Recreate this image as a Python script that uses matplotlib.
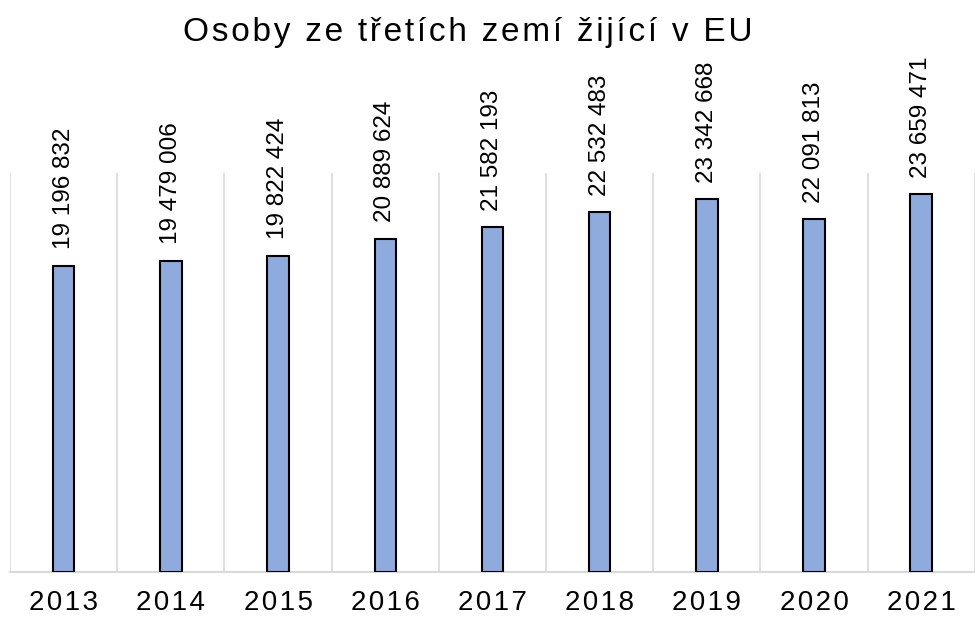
import matplotlib
matplotlib.use("Agg")
import matplotlib.pyplot as plt
import numpy as np

plt.rcParams['font.family'] = ['Liberation Sans', 'DejaVu Sans']

roky = ['2013', '2014', '2015', '2016', '2017', '2018', '2019', '2020', '2021']
osoby = [19196832, 19479006, 19822424, 20889624, 21582193,
         22532483, 23342668, 22091813, 23659471]


def rozpal(s, sep='\u200a'):
    # roztazeni pismen jako v excelu
    return sep.join(s)


def cislo(v):
    return f'{v:,}'.replace(',', ' ')


fig = plt.figure(figsize=(9.75, 6.17), dpi=100)
ax = fig.add_axes([0.0103, 0.073, 0.9895, 0.6467])

x = np.arange(len(roky))
ax.bar(x, osoby, width=0.2, color='#8faadc', edgecolor='black', linewidth=1.5, zorder=3)

for xi, v in zip(x, osoby):
    ax.annotate(cislo(v), (xi, v), xytext=(0, 12), textcoords='offset points',
                rotation=90, ha='center', va='bottom', fontsize=17.5,
                annotation_clip=False)

ax.set_xlim(-0.5, len(roky) - 0.5)
ax.set_ylim(0, 25000000)
ax.set_yticks([])
ax.set_xticks(x)
ax.set_xticklabels([rozpal(r) for r in roky], fontsize=20)
ax.tick_params(axis='x', length=0, pad=13)

for g in np.arange(-0.5, len(roky), 1.0):
    ax.axvline(g, color='#d9d9d9', linewidth=1.2, zorder=1)

for s in ['top', 'right', 'left']:
    ax.spines[s].set_visible(False)
ax.spines['bottom'].set_color('#d9d9d9')
ax.spines['bottom'].set_linewidth(1.5)

fig.text(0.4795, 0.947, rozpal('Osoby ze třetích zemí žijící v EU'),
         ha='center', va='center', fontsize=24)

fig.savefig('out.png', dpi=100)
